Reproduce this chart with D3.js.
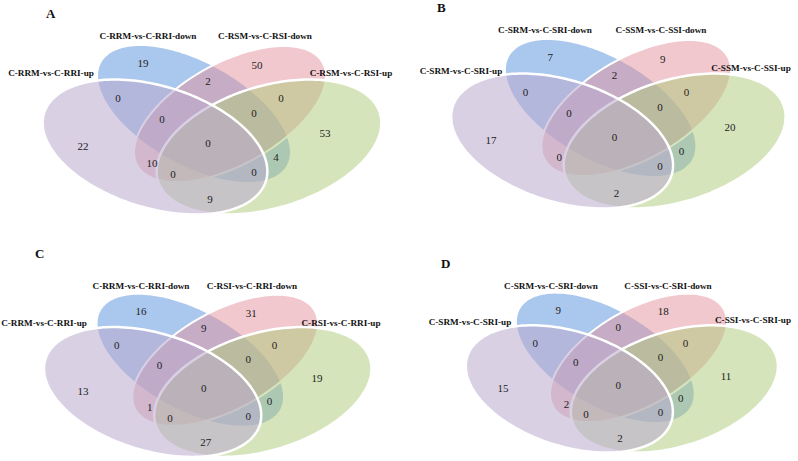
<!DOCTYPE html>
<html><head><meta charset="utf-8">
<script src="https://cdn.jsdelivr.net/npm/d3@7"></script>
<style>body{margin:0;background:#fff} svg{display:block}</style>
</head><body><svg id="c" width="798" height="461"></svg>
<script>
// ---------------- data ----------------
const panelTitles = ["A", "B", "C", "D"];
const setNamesA = ["C-RRM-vs-C-RRI-up", "C-RRM-vs-C-RRI-down", "C-RSM-vs-C-RSI-down", "C-RSM-vs-C-RSI-up"];
const setNamesB = ["C-SRM-vs-C-SRI-up", "C-SRM-vs-C-SRI-down", "C-SSM-vs-C-SSI-down", "C-SSM-vs-C-SSI-up"];
const setNamesC = ["C-RRM-vs-C-RRI-up", "C-RRM-vs-C-RRI-down", "C-RSI-vs-C-RRI-down", "C-RSI-vs-C-RRI-up"];
const setNamesD = ["C-SRM-vs-C-SRI-up", "C-SRM-vs-C-SRI-down", "C-SSI-vs-C-SRI-down", "C-SSI-vs-C-SRI-up"];
// regions: P=up(left), B=down(left), K=down(right), G=up(right)
const regionKeys = ["B", "K", "BK", "P", "PB", "PBK", "PBKG", "BKG", "KG", "G", "PK", "PKG", "PBG", "BG", "PG"];
const countsA = [19, 50, 2, 22, 0, 0, 0, 0, 0, 53, 10, 0, 0, 4, 9];
const countsB = [7, 9, 2, 17, 0, 0, 0, 0, 0, 20, 0, null, 0, 0, 2];
const countsC = [16, 31, 9, 13, 0, 0, 0, 0, 0, 19, 1, 0, 0, 0, 27];
const countsD = [9, 18, 0, 15, 0, 0, 0, 0, 0, 11, 2, 0, 0, 0, 2];

// ---------------- layout (base coordinates) ----------------
const regionAnchors = [[143,63],[257,65],[208,81],[83,146],[118,98],[162,119],[208,143],[254,113],[281,98],[325,133],[152,163],[173,174],[254,172],[276,157],[210,199]];
const ellipseDefs = [
  {cx:194, cy:114, rx:106, ry:51, rot:29,  fill:"#5590dc", op:0.5,  sw:0},
  {cx:230, cy:114, rx:106, ry:51, rot:-29, fill:"#e1919b", op:0.5,  sw:2},
  {cx:269, cy:147, rx:116, ry:61, rot:-17, fill:"#adc979", op:0.5,  sw:2.5},
  {cx:155, cy:147, rx:116, ry:61, rot:17,  fill:"#b9a9cd", op:0.55, sw:2.5}
];
const panels = [
  {title:panelTitles[0], names:setNamesA, counts:countsA, xr:[83,325], yr:[146,199], tpos:[46,18],
   lpos:[[51,76],[148,39],[265,39],[351,76]]},
  {title:panelTitles[1], names:setNamesB, counts:countsB, xr:[491,730], yr:[140,193], tpos:[437,12],
   lpos:[[461,74],[545,33],[661,33],[751,71]]},
  {title:panelTitles[2], names:setNamesC, counts:countsC, xr:[83,317], yr:[391,442], tpos:[35,258],
   lpos:[[44,326],[141,289],[252,289],[341,326]]},
  {title:panelTitles[3], names:setNamesD, counts:countsD, xr:[503,726], yr:[388,438], tpos:[441,268],
   lpos:[[470,325],[551,289],[668,289],[753,323]]}
];

const svg = d3.select("#c");
const serif = "'Liberation Serif','Times New Roman',serif";

panels.forEach(p => {
  const x = d3.scaleLinear().domain([83,325]).range(p.xr);
  const y = d3.scaleLinear().domain([146,199]).range(p.yr);
  const g = svg.append("g");
  const line = d3.line().x(d => x(d[0])).y(d => y(d[1])).curve(d3.curveLinearClosed);
  ellipseDefs.forEach(e => {
    const r = e.rot * Math.PI / 180;
    const pts = d3.range(0, 360, 2).map(t => {
      const a = t * Math.PI / 180;
      const u = e.rx * Math.cos(a), v = e.ry * Math.sin(a);
      return [e.cx + u*Math.cos(r) - v*Math.sin(r), e.cy + u*Math.sin(r) + v*Math.cos(r)];
    });
    g.append("path").attr("d", line(pts))
      .attr("fill", e.fill).attr("fill-opacity", e.op)
      .attr("stroke", e.sw ? "#fff" : "none").attr("stroke-width", e.sw);
  });
  g.selectAll("text.num").data(p.counts.map((c,i) => ({c, a:regionAnchors[i]})).filter(d => d.c !== null))
    .join("text").attr("class","num")
    .attr("x", d => x(d.a[0])).attr("y", d => y(d.a[1])).attr("dy","0.35em")
    .attr("text-anchor","middle").attr("font-family", serif).attr("font-size", 11)
    .attr("fill","#222").text(d => d.c);
  g.selectAll("text.set").data(p.names).join("text").attr("class","set")
    .attr("x", (d,i) => p.lpos[i][0]).attr("y", (d,i) => p.lpos[i][1])
    .attr("text-anchor","middle").attr("font-family", serif).attr("font-weight","bold")
    .attr("font-size", 9.2).attr("fill","#111").text(d => d);
  g.append("text").attr("x", p.tpos[0]).attr("y", p.tpos[1])
    .attr("font-family", serif).attr("font-weight","bold").attr("font-size", 13)
    .attr("fill","#111").text(p.title);
});
</script></body></html>
